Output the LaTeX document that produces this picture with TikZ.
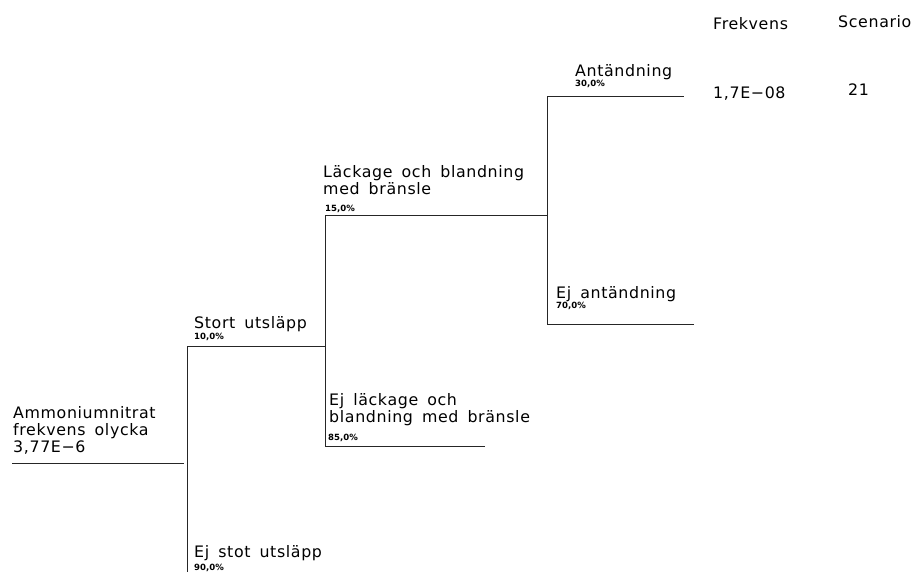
\documentclass[tikz,border=0pt]{standalone}
\usepackage{fontspec}
\setmainfont{DejaVu Sans}[LetterSpace=4,WordSpace=1.6]
\newfontfamily\pctfont{DejaVu Sans}[BoldFont={DejaVu Sans Bold}]
\usetikzlibrary{positioning}

\tikzset{
	branch/.style={draw=black!85, line width=0.6pt},
	lbl/.style={inner sep=0pt, anchor=base west, align=left, font=\fontsize{13.5}{14.8}\selectfont},
	pct/.style={inner sep=0pt, anchor=base west, font=\pctfont\bfseries\fontsize{7.3}{8}\selectfont},
	head/.style={inner sep=0pt, anchor=base west, font=\fontsize{13.5}{14.8}\selectfont}
}

\begin{document}
\begin{tikzpicture}[x=0.03cm, y=-0.03cm]
	\useasboundingbox (0,0) rectangle (916,572);

	% points of the tree
	\coordinate (RootL)	at (12,463);
	\coordinate (RootR)	at (184,463);
	\coordinate (Stort)	at (187,346);
	\coordinate (EjStort)	at (187,572);
	\coordinate (StortR)	at (325,346);
	\coordinate (Lack)	at (325,215);
	\coordinate (EjLack)	at (325,446);
	\coordinate (EjLackR)	at (485,446);
	\coordinate (LackR)	at (547,215);
	\coordinate (Ant)	at (547,96);
	\coordinate (EjAnt)	at (547,324);
	\coordinate (AntR)	at (684,96);
	\coordinate (EjAntR)	at (694,324);

	\draw [branch] (RootL) -- (RootR);
	\draw [branch] (EjStort) -- (Stort) -- (StortR);
	\draw [branch] (EjLackR) -- (EjLack) -- (Lack) -- (LackR);
	\draw [branch] (EjAntR) -- (EjAnt) -- (Ant) -- (AntR);

	% texts (base = last line)
	\node [lbl]	(RootTxt)	at (13,453)	{Ammoniumnitrat\\frekvens olycka\\3,77E−6};
	\node [lbl]	(StortTxt)	at (194,329)	{Stort utsläpp};
	\node [pct]	(StortPct)	at (194,340)	{10,0\%};
	\node [lbl]	(EjStortTxt)	at (194,557)	{Ej stot utsläpp};
	\node [pct]	(EjStortPct)	at (194,570)	{90,0\%};
	\node [lbl]	(LackTxt)	at (323,195)	{Läckage och blandning\\med bränsle};
	\node [pct]	(LackPct)	at (325,212)	{15,0\%};
	\node [lbl]	(EjLackTxt)	at (329,423)	{Ej läckage och\\blandning med bränsle};
	\node [pct]	(EjLackPct)	at (328,441)	{85,0\%};
	\node [lbl]	(AntTxt)	at (575,77)	{Antändning};
	\node [pct]	(AntPct)	at (575,87)	{30,0\%};
	\node [lbl]	(EjAntTxt)	at (556,299)	{Ej antändning};
	\node [pct]	(EjAntPct)	at (556,309)	{70,0\%};

	% result columns
	\node [head]	(Frekvens)	at (713,30)	{Frekvens};
	\node [head]	(Scenario)	at (838,28)	{Scenario};
	\node [head]	(FrekAnt)	at (713,99)	{1,7E−08};
	\node [head]	(ScenAnt)	at (848,96)	{21};
\end{tikzpicture}
\end{document}
